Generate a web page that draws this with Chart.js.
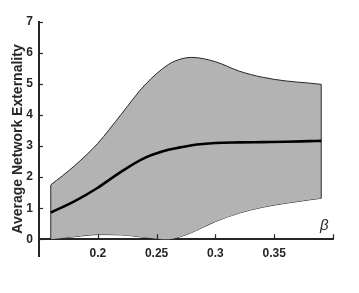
<!DOCTYPE html>
<html>
<head>
<meta charset="utf-8">
<script src="https://cdn.jsdelivr.net/npm/chart.js@4.4.1/dist/chart.umd.min.js"></script>
<style>
  html, body { margin: 0; padding: 0; background: #ffffff; }
  canvas { display: block; }
</style>
</head>
<body>
<canvas id="c" width="359" height="293"></canvas>
<script>
// ---- data ----
const beta  = [0.16, 0.18, 0.20, 0.22, 0.24, 0.26, 0.27, 0.28, 0.30, 0.32, 0.34, 0.36, 0.38, 0.39];
const upper = [1.75, 2.36, 3.09, 4.03, 4.97, 5.63, 5.80, 5.86, 5.72, 5.42, 5.22, 5.10, 5.03, 4.99];
const meanV = [0.86, 1.22, 1.66, 2.18, 2.62, 2.88, 2.96, 3.03, 3.10, 3.12, 3.13, 3.14, 3.16, 3.17];
const lower = [0.00, 0.08, 0.15, 0.14, 0.06, 0.00, 0.08, 0.22, 0.57, 0.84, 1.03, 1.16, 1.27, 1.32];
const xTicks = [0.15, 0.20, 0.25, 0.30, 0.35, 0.40];
const xTickLabels = ['', '0.2', '0.25', '0.3', '0.35', ''];
const yTicks = [0, 1, 2, 3, 4, 5, 6, 7];
const yTitle = 'Average Network Externality';
const xName = 'β';

const axisColor = '#262626';
const pts = (ys) => beta.map((b, i) => ({x: b, y: ys[i]}));
const last = beta.length - 1;

const inwardTicks = {
  id: 'inwardTicks',
  afterDraw(chart) {
    const {ctx, chartArea, scales: {x, y}} = chart;
    ctx.save();
    ctx.strokeStyle = axisColor;
    ctx.lineWidth = 1.2;
    const y0 = y.getPixelForValue(0);
    xTicks.forEach(v => {
      if (v <= x.min) return;
      const px = Math.round(x.getPixelForValue(v)) + 0.5;
      ctx.beginPath(); ctx.moveTo(px, y0); ctx.lineTo(px, y0 - 5); ctx.stroke();
    });
    yTicks.forEach(v => {
      const py = Math.round(y.getPixelForValue(v)) + 0.5;
      ctx.beginPath(); ctx.moveTo(chartArea.left, py); ctx.lineTo(chartArea.left + 4, py); ctx.stroke();
    });
    // axis name on the x axis
    ctx.fillStyle = axisColor;
    ctx.font = 'italic 15px "Liberation Sans", Arial, sans-serif';
    ctx.textAlign = 'center';
    ctx.textBaseline = 'middle';
    ctx.fillText(xName, x.getPixelForValue(0.3925), y.getPixelForValue(0.42));
    ctx.restore();
  }
};

new Chart(document.getElementById('c'), {
  type: 'line',
  data: {
    datasets: [
      { data: pts(meanV), borderColor: '#000000', borderWidth: 2.6, pointRadius: 0,
        cubicInterpolationMode: 'monotone', fill: false, order: 0 },
      { data: [{x: beta[0], y: lower[0]}, {x: beta[0], y: upper[0]}],
        borderColor: axisColor, borderWidth: 1, pointRadius: 0, fill: false, order: 1 },
      { data: [{x: beta[last], y: lower[last]}, {x: beta[last], y: upper[last]}],
        borderColor: axisColor, borderWidth: 1, pointRadius: 0, fill: false, order: 1 },
      { data: pts(upper), borderColor: axisColor, borderWidth: 1, pointRadius: 0,
        cubicInterpolationMode: 'monotone', fill: '+1', backgroundColor: '#b3b3b3', order: 2 },
      { data: pts(lower), borderColor: axisColor, borderWidth: 1, pointRadius: 0,
        cubicInterpolationMode: 'monotone', fill: false, order: 2 }
    ]
  },
  options: {
    responsive: false,
    devicePixelRatio: 1,
    animation: false,
    events: [],
    layout: { padding: { left: 0, top: 22, right: 26, bottom: 37 } },
    plugins: { legend: { display: false }, tooltip: { enabled: false } },
    scales: {
      x: {
        type: 'linear',
        position: { y: 0 },
        min: 0.15, max: 0.40,
        afterBuildTicks: (s) => { s.ticks = xTicks.map(v => ({value: v})); },
        grid: { display: false, drawTicks: false },
        border: { display: true, color: axisColor, width: 2 },
        ticks: {
          padding: 7,
          color: axisColor,
          font: { family: '"Liberation Sans", Arial, sans-serif', size: 12, weight: 'bold' },
          maxRotation: 0,
          autoSkip: false,
          callback: (v, i) => xTickLabels[i]
        }
      },
      y: {
        type: 'linear',
        position: 'left',
        min: -0.54, max: 7,
        afterBuildTicks: (s) => { s.ticks = yTicks.map(v => ({value: v})); },
        afterFit: (s) => { s.width = 39; },
        grid: { display: false, drawTicks: false },
        border: { display: true, color: axisColor, width: 2 },
        ticks: {
          padding: 6,
          autoSkip: false,
          color: axisColor,
          font: { family: '"Liberation Sans", Arial, sans-serif', size: 12, weight: 'bold' },
          callback: (v) => String(v)
        },
        title: {
          display: true,
          text: yTitle,
          color: axisColor,
          padding: { top: 10, bottom: 0 },
          font: { family: '"Liberation Sans", Arial, sans-serif', size: 14, weight: 'bold' }
        }
      }
    }
  },
  plugins: [inwardTicks]
});
</script>
</body>
</html>
